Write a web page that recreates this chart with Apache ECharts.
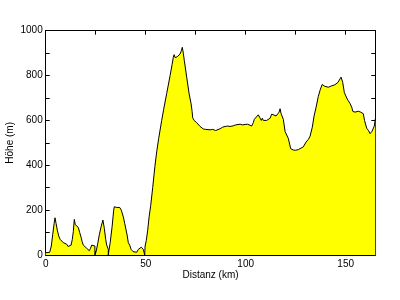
<!DOCTYPE html>
<html>
<head>
<meta charset="utf-8">
<script src="https://cdn.jsdelivr.net/npm/echarts@6/dist/echarts.min.js"></script>
<style>html,body{margin:0;padding:0;background:#fff}#c{width:400px;height:300px}</style>
</head>
<body>
<div id="c"></div>
<script>
// Distance along route (km)
var distanz = [
  0, 1, 2, 2.8, 3.5, 4.2, 4.65, 5.2, 5.8, 6.5, 7.2, 8, 8.8, 9.6, 10.5, 11.2, 11.7, 12.7, 13.3, 13.8, 14.3, 14.8, 15.2, 16.3, 17, 17.7, 18.2, 18.8, 19.6, 20.5, 21.2, 21.8, 22.4, 23, 24.0, 24.6,
  24.6, 25.2, 26, 26.8, 27.7, 28.6, 29.3, 30, 30.5, 31.3,
  31.3, 31.6, 32.2, 33.2, 34, 34.3, 35.5, 36.3, 37, 37.8, 38.8, 39.5, 40.2, 40.7, 41.3, 42, 42.7, 43.7, 44.5, 45.5, 46.3, 47, 47.8, 48.8, 49.5,
  49.5, 49.7, 50.3, 51, 51.7, 52.5, 53.5, 54.6, 55.5, 56.5, 58, 59, 60.5, 62.2, 63.2, 63.8, 64.2, 64.7, 65.8, 66.7, 67.2, 67.8, 68.3, 68.8, 69.3, 70.5, 71.7, 72.7, 73.2, 73.5, 74.2, 74.7, 75.5, 76.3, 77.2, 78.8, 80, 81, 82.2, 83.5, 85, 86, 87.2, 88.5, 89.7, 91, 92.2, 93.8, 95, 96, 97.2, 98.5, 99.7, 101, 101.7, 103, 103.8, 104.3, 105.2, 106.3, 107.2, 107.8, 108.3, 108.8, 109.5, 110.5, 111.2, 112.2, 113, 113.8, 115.2, 115.8, 116.7, 117.2, 117.7, 118.8, 119.7, 121.3, 122.5, 123.8, 125, 126.3, 127.2, 128.8, 130.2, 131.3, 132.2, 133.3, 134.2, 135.2, 136.3, 137.2, 138.2, 138.8, 139.6, 140.5, 141.3, 142.2, 143, 143.8, 144.6, 145.5, 146.2, 146.8, 147.7, 148.5, 149.3, 150.5, 151.2, 152.2, 153, 153.6, 154.2, 154.7, 155.5, 156.3, 156.8, 157.5, 158, 158.8, 159.4, 160.5, 161.3, 162.2, 163.2, 164.3, 164.8
];
// Elevation (m)
var hoehe = [
  10, 8, 12, 40, 90, 140, 166, 140, 111, 85, 70, 62, 55, 52, 48, 38, 30, 44, 70, 104, 159, 135, 129, 123, 100, 79, 60, 44, 36, 30, 24, 19, 30, 44, 48, 40,
  0, 15, 50, 90, 126, 156, 119, 70, 44, 25,
  0, 20, 52, 126, 200, 215, 212, 215, 212, 200, 170, 141, 111, 89, 55, 44, 25, 15, 12, 12, 25, 24, 35, 25, 30,
  0, 40, 65, 110, 170, 220, 300, 395, 460, 520, 600, 650, 720, 800, 850, 881, 893, 880, 884, 890, 896, 910, 926, 900, 867, 793, 719, 674, 640, 612, 600, 597, 590, 582, 573, 562, 560, 562, 558, 560, 555, 562, 563, 570, 573, 575, 573, 576, 580, 582, 583, 580, 582, 583, 580, 575, 590, 605, 612, 625, 610, 600, 610, 600, 598, 600, 597, 610, 628, 630, 620, 625, 637, 652, 630, 605, 550, 520, 474, 468, 467, 470, 476, 482, 504, 515, 530, 570, 620, 659, 707, 735, 760, 752, 752, 750, 748, 752, 754, 752, 759, 766, 770, 780, 793, 770, 725, 700, 689, 675, 659, 640, 640, 637, 644, 641, 640, 637, 635, 630, 600, 565, 556, 541, 552, 575, 607, 612
];
var xTicks = [0, 50, 100, 150];
var yTicks = [0, 200, 400, 600, 800, 1000];

var pts = distanz.map(function (d, i) { return [d, hoehe[i]]; });
var font = 'Liberation Sans, Arial, sans-serif';
function axisCommon(extra) {
  var o = {
    type: 'value',
    axisLine: { show: true, onZero: false, lineStyle: { color: '#000', width: 1 } },
    axisTick: { show: true, inside: true, length: 4, lineStyle: { color: '#000', width: 1 } },
    splitLine: { show: false },
    minorTick: { show: false }
  };
  for (var k in extra) o[k] = extra[k];
  return o;
}
var chart = echarts.init(document.getElementById('c'), null, { renderer: 'canvas' });
chart.setOption({
  animation: false,
  backgroundColor: '#fff',
  grid: { left: 45.7, right: 24.7, top: 30.7, bottom: 45, containLabel: false, outerBoundsMode: 'none' },
  xAxis: [
    axisCommon({
      position: 'bottom', min: 0, max: 164.8, interval: 25,
      name: 'Distanz (km)', nameLocation: 'middle', nameGap: 15, nameMoveOverlap: false,
      nameTextStyle: { fontFamily: font, fontSize: 10, color: '#000' },
      axisLabel: {
        show: true, margin: 4, color: '#000', fontFamily: font, fontSize: 10,
        showMaxLabel: false,
        formatter: function (v) { return xTicks.indexOf(v) >= 0 ? String(v) : ''; }
      }
    }),
    axisCommon({ position: 'top', min: 0, max: 164.8, interval: 25, axisLabel: { show: false } })
  ],
  yAxis: [
    axisCommon({
      position: 'left', min: 0, max: 1000, interval: 100,
      name: 'Höhe (m)', nameLocation: 'middle', nameGap: 30, nameRotate: 90, nameMoveOverlap: false,
      nameTextStyle: { fontFamily: font, fontSize: 10, color: '#000' },
      axisLabel: {
        show: true, margin: 3, color: '#000', fontFamily: font, fontSize: 10,
        formatter: function (v) { return yTicks.indexOf(v) >= 0 ? String(v) : ''; }
      }
    }),
    axisCommon({ position: 'right', min: 0, max: 1000, interval: 100, axisLabel: { show: false } })
  ],
  series: [{
    type: 'line',
    data: pts,
    xAxisIndex: 0, yAxisIndex: 0,
    showSymbol: false,
    symbol: 'none',
    smooth: false,
    lineStyle: { color: '#000', width: 1 },
    areaStyle: { color: '#ffff00', opacity: 1 },
    z: 1
  }]
});
</script>
</body>
</html>
